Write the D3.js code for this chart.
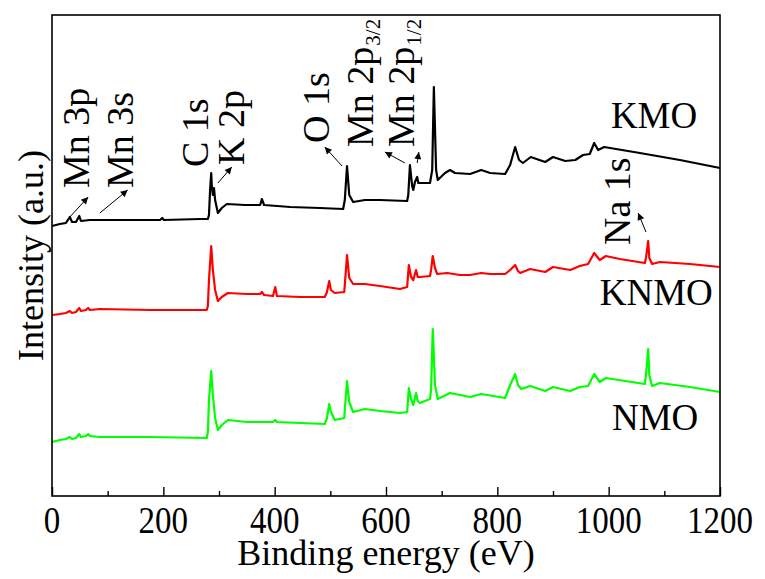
<!DOCTYPE html>
<html><head><meta charset="utf-8">
<script src="https://cdn.jsdelivr.net/npm/d3@7"></script>
<style>
body{margin:0;background:#fff}
svg{display:block}
text{font-family:"Liberation Serif","Times New Roman",serif;fill:#000}
</style>
</head><body>
<svg id="c" width="765" height="579"></svg>
<script>
// ---- data (binding energy in eV, intensity in a.u. with vertical offsets) ----
const kmoEnergy=[0,14,25,32,36,43,49,52,68,86,140,194,198,201,266,280,282,284,286,287,289,291,293,298,305,314,347,374,377,381,428,481,523,526,530,534,541,562,589,638,640,643,647,649,652,656,658,661,679,683,686,690,693,706,715,724,751,771,787,814,823,832,839,846,860,886,900,922,940,954,966,974,981,992,1056,1128,1200];
const kmoIntensity=[270,272,273,279,274,274,280,275,276,276,276,276,278,276,277,277,281,306,323,311,301,308,296,283,288,292,291,291,297,291,289,288,287,296,330,301,294,296,296,295,301,331,310,306,314,319,313,313,313,326,409,326,316,323,326,323,322,326,323,322,331,349,336,333,339,334,339,335,336,341,342,353,346,349,343,336,328];

const knmoEnergy=[0,14,25,32,36,43,49,52,61,65,68,86,176,278,280,282,286,289,293,298,305,316,350,374,377,381,397,401,404,446,490,494,498,501,508,525,526,530,534,541,562,589,625,638,641,645,649,654,657,661,679,681,684,688,692,710,733,751,771,787,814,823,832,837,841,859,886,900,931,948,963,974,984,995,1020,1065,1067,1071,1073,1078,1092,1146,1200];
const knmoIntensity=[181,182,183,185,183,184,188,185,186,188,186,187,186,186,190,216,250,226,206,195,199,203,202,202,204,201,200,209,200,199,199,204,215,206,203,204,211,241,218,212,212,210,207,209,231,219,216,226,219,219,220,226,240,228,222,223,221,221,223,222,222,226,231,225,223,227,224,229,226,230,232,243,236,240,237,233,238,255,238,232,234,232,229];

const nmoEnergy=[0,14,25,32,36,43,49,52,61,65,68,86,176,278,280,282,286,289,293,298,305,316,350,397,401,404,446,490,494,498,501,508,525,526,530,534,541,562,589,625,638,641,645,649,654,657,661,679,681,684,688,693,715,751,771,814,823,832,837,843,859,886,900,931,948,963,974,984,995,1065,1067,1071,1073,1078,1092,1146,1200];
const nmoIntensity=[54,56,57,59,57,58,62,59,60,62,60,59,59,58,64,96,125,101,78,66,71,76,74,74,76,74,73,72,78,92,84,76,78,86,115,94,84,87,85,83,84,108,97,91,103,95,93,97,106,167,111,97,103,99,102,98,111,122,111,107,110,105,109,105,109,110,122,114,118,112,121,147,121,110,113,109,104];

const seriesNames=["KMO","KNMO","NMO"];
const seriesColors=["#000000","#ff0000","#00ff00"];
const seriesLabelEnergy=[1004,984,1006];
const seriesLabelIntensity=[368,191,66];

const majorTicks=[0,200,400,600,800,1000,1200];
const minorTicks=[100,300,500,700,900,1100];
const xTitle="Binding energy (eV)";
const yTitle="Intensity (a.u.)";

// peak annotations: label text, subscript, label anchor (eV, a.u.), arrow from/to (eV, a.u.)
const peakLabels=["Mn 3p","Mn 3s","C 1s","K 2p","O 1s","Mn 2p","Mn 2p","Na 1s"];
const peakSubs=["","","","","","3/2","1/2",""];
const labelEnergy=[66,145,280,345,497,577,650,1038];
const labelIntensity=[308,308,329,331,353,349,349,251];
const arrowFromE=[32,86,298,521,634,656,1067];
const arrowFromI=[279,283,313,330,333,333,264];
const arrowToE=[65,136,323,490,598,659,1053];
const arrowToI=[299,306,329,349,344,344,283];

// ---- layout ----
const m={l:52,r:720,t:15,b:496};
const svg=d3.select("#c");
const x=d3.scaleLinear().domain([0,1200]).range([m.l,m.r]);
const y=d3.scaleLinear().domain([0,481]).range([m.b,m.t]);

svg.append("defs").append("marker")
  .attr("id","ah").attr("viewBox","0 0 10 10").attr("refX",10).attr("refY",5)
  .attr("markerUnits","userSpaceOnUse").attr("markerWidth",9).attr("markerHeight",7)
  .attr("orient","auto")
  .append("path").attr("d","M0,0 L10,5 L0,10 Z").attr("fill","#000");

// series
const series=[
  {e:kmoEnergy,v:kmoIntensity},
  {e:knmoEnergy,v:knmoIntensity},
  {e:nmoEnergy,v:nmoIntensity}
];
const line=d3.line().x(d=>x(d[0])).y(d=>y(d[1]));
series.forEach((s,i)=>{
  svg.append("path")
    .attr("d",line(d3.zip(s.e,s.v)))
    .attr("fill","none").attr("stroke",seriesColors[i])
    .attr("stroke-width",2.2).attr("stroke-linejoin","round");
});

// series labels
seriesNames.forEach((n,i)=>{
  svg.append("text").attr("x",x(seriesLabelEnergy[i])).attr("y",y(seriesLabelIntensity[i]))
    .attr("font-size",37).text(n);
});

// frame
svg.append("rect").attr("x",m.l).attr("y",m.t).attr("width",m.r-m.l).attr("height",m.b-m.t)
  .attr("fill","none").attr("stroke","#000").attr("stroke-width",1.6);

// ticks (inward)
const gMaj=svg.append("g").attr("transform",`translate(0,${m.b})`)
  .call(d3.axisBottom(x).tickValues(majorTicks).tickSize(-9).tickFormat(""));
const gMin=svg.append("g").attr("transform",`translate(0,${m.b})`)
  .call(d3.axisBottom(x).tickValues(minorTicks).tickSize(-5).tickFormat(""));
[gMaj,gMin].forEach(g=>{
  g.select(".domain").remove();
  g.selectAll("line").attr("stroke","#000").attr("stroke-width",1.4);
});

// tick labels
majorTicks.forEach(t=>{
  svg.append("text").attr("transform",`translate(${x(t)},${m.b+37}) scale(1,1.16)`)
    .attr("text-anchor","middle").attr("font-size",33).text(t);
});

// axis titles
svg.append("text").attr("x",(m.l+m.r)/2).attr("y",565).attr("text-anchor","middle")
  .attr("font-size",36).text(xTitle);
svg.append("text").attr("transform",`translate(43,${(m.t+m.b)/2}) rotate(-90)`)
  .attr("text-anchor","middle").attr("font-size",36).text(yTitle);

// peak labels (rotated)
peakLabels.forEach((t,i)=>{
  const tx=svg.append("text")
    .attr("transform",`translate(${x(labelEnergy[i])},${y(labelIntensity[i])}) rotate(-90)`)
    .attr("font-size",38).text(t);
  if(peakSubs[i]) tx.append("tspan").attr("font-size",21).attr("dy",7).attr("dx",1).text(peakSubs[i]);
});

// arrows
arrowFromE.forEach((e,i)=>{
  svg.append("line").attr("x1",x(e)).attr("y1",y(arrowFromI[i]))
    .attr("x2",x(arrowToE[i])).attr("y2",y(arrowToI[i]))
    .attr("stroke","#000").attr("stroke-width",1).attr("marker-end","url(#ah)");
});
</script>
</body></html>
